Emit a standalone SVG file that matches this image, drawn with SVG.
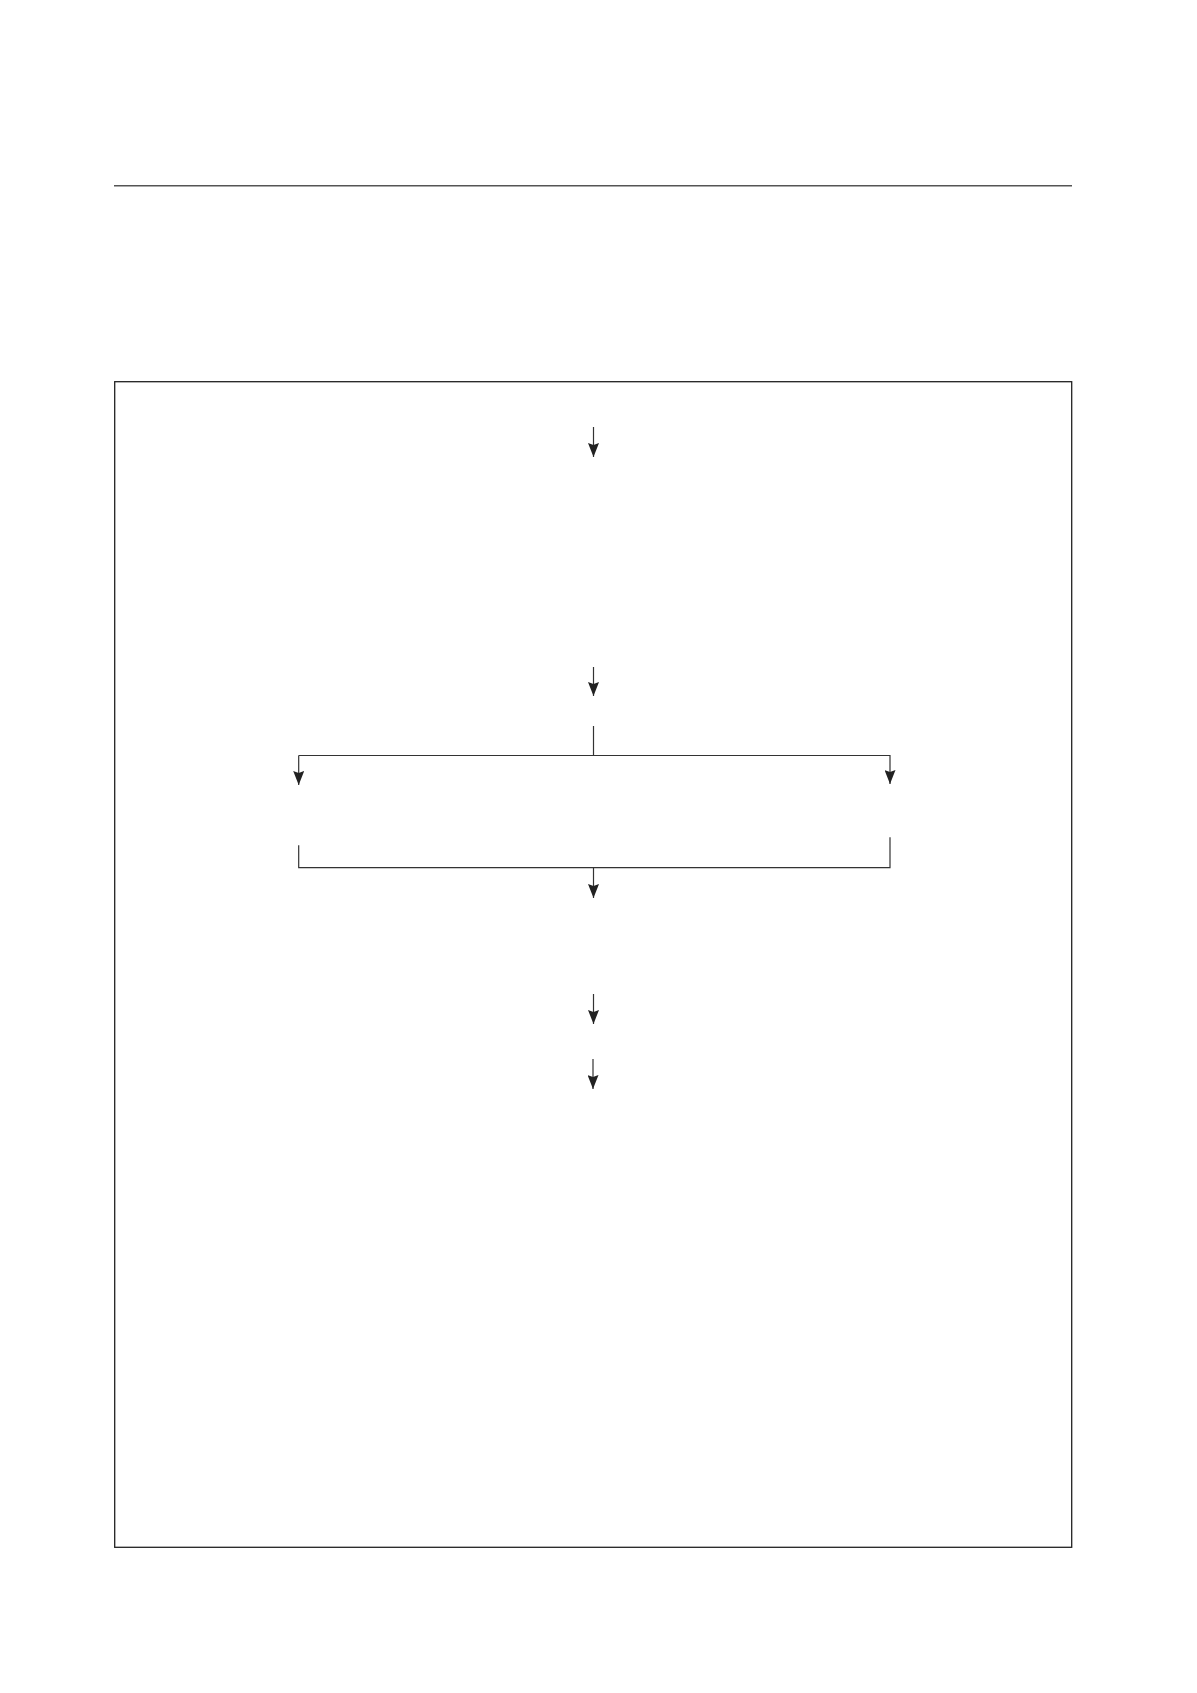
<svg xmlns="http://www.w3.org/2000/svg" width="1197" height="1693" viewBox="0 0 1197 1693">
  <style>
    .rule { stroke: #555555; stroke-width: 1.6; fill: none; }
    .frame { stroke: #222222; stroke-width: 1.3; fill: none; }
    .conn { stroke: #333333; stroke-width: 1.2; fill: none; }
  </style>
  <defs>
    <marker id="arrowDown" markerUnits="userSpaceOnUse" markerWidth="11" markerHeight="14" viewBox="0 0 11 14" refX="5.5" refY="14" orient="0">
      <path d="M0,0 L5.5,2 L11,0 L5.5,14 Z" fill="#222222"/>
    </marker>
  </defs>
  <rect width="1197" height="1693" fill="#ffffff"/>
  <g id="header-rule">
    <line class="rule" x1="114" y1="185.7" x2="1072" y2="185.7"/>
  </g>
  <g id="frame">
    <rect class="frame" x="114.7" y="381.7" width="957" height="1165.6"/>
  </g>
  <g id="connectors">
    <line class="conn" x1="593.5" y1="427" x2="593.5" y2="457" marker-end="url(#arrowDown)"/>
    <line class="conn" x1="593.5" y1="667" x2="593.5" y2="696" marker-end="url(#arrowDown)"/>
    <line class="conn" x1="593.5" y1="726" x2="593.5" y2="755.5"/>
    <line class="conn" x1="298.7" y1="755.5" x2="298.7" y2="785" marker-end="url(#arrowDown)"/>
    <polyline class="conn" points="298.7,755.5 890,755.5 890,784" marker-end="url(#arrowDown)"/>
    <polyline class="conn" points="298.7,845.3 298.7,867.7 890,867.7 890,837.3"/>
    <line class="conn" x1="593.5" y1="867.7" x2="593.5" y2="898" marker-end="url(#arrowDown)"/>
    <line class="conn" x1="593.5" y1="994" x2="593.5" y2="1024" marker-end="url(#arrowDown)"/>
    <line class="conn" x1="593" y1="1059" x2="593" y2="1089" marker-end="url(#arrowDown)"/>
  </g>
</svg>
